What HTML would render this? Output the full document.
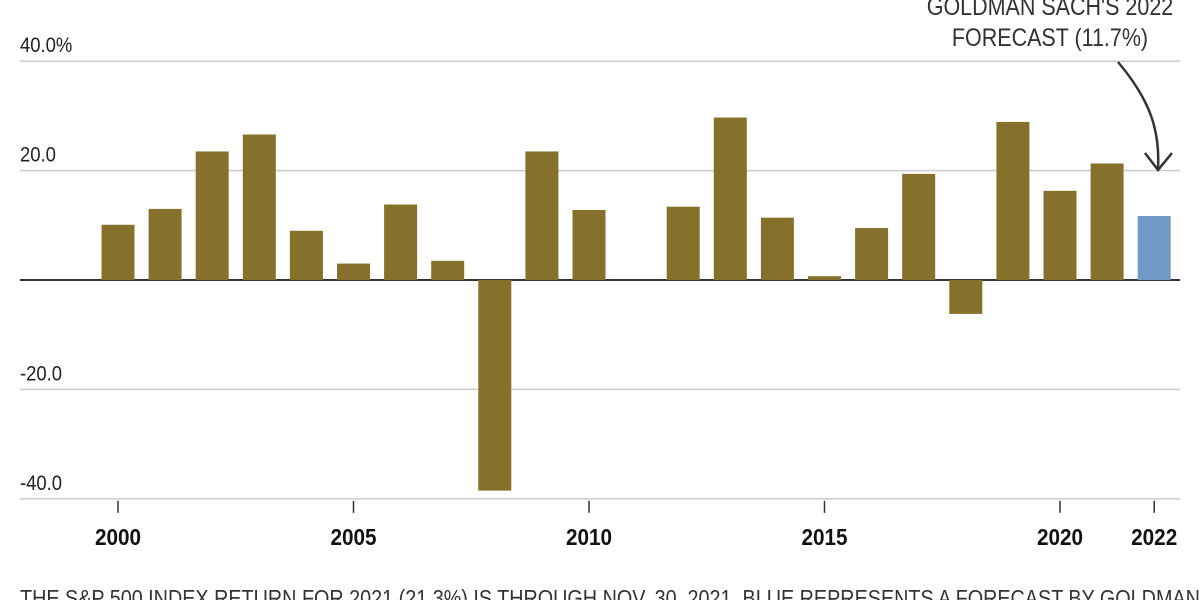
<!DOCTYPE html>
<html><head><meta charset="utf-8"><style>
html,body{margin:0;padding:0;background:#fff;}
svg{display:block;font-family:"Liberation Sans",sans-serif;}
</style></head><body>
<svg id="chart" width="1200" height="600">
<text x="20" y="-8" font-size="26" font-weight="bold">S&amp;P 500 returns</text>
<g id="grid"></g><g id="bars"></g><g id="xaxis"></g>
<text x="1050" y="15" font-size="25" fill="#333" text-anchor="middle" transform="translate(1050,0) scale(0.86,1) translate(-1050,0)">GOLDMAN SACH'S 2022</text>
<text x="1050" y="46" font-size="25" fill="#333" text-anchor="middle" transform="translate(1050,0) scale(0.86,1) translate(-1050,0)">FORECAST (11.7%)</text>
<path d="M1118,62 C1150,100 1160,130 1158,168" fill="none" stroke="#333" stroke-width="2.5"/>
<path d="M1145,153 L1158,170 L1172,153" fill="none" stroke="#333" stroke-width="2.5"/>
<text x="20" y="606" font-size="23" fill="#333" transform="translate(20,0) scale(0.86,1) translate(-20,0)">THE S&amp;P 500 INDEX RETURN FOR 2021 (21.3%) IS THROUGH NOV. 30, 2021. BLUE REPRESENTS A FORECAST BY GOLDMAN SACHS</text>
</svg>
<script>
const years=[2000,2001,2002,2003,2004,2005,2006,2007,2008,2009,2010,2011,2012,2013,2014,2015,2016,2017,2018,2019,2020,2021,2022];
const returns=[10.1,13.0,23.5,26.6,9.0,3.0,13.8,3.5,-38.5,23.5,12.8,0,13.4,29.7,11.4,0.7,9.5,19.4,-6.2,28.9,16.3,21.3,11.7];
const forecastYears=[2022];
const yTicks=[40,20,0,-20,-40];
const yTickLabels=["40.0%","20.0","","-20.0","-40.0"];
const xTicks=[2000,2005,2010,2015,2020,2022];
const NS="http://www.w3.org/2000/svg";
const x=v=>118+(v-2000)*47.1;
const y=v=>280-v*5.47;
function mk(tag,attrs,parent){const e=document.createElementNS(NS,tag);for(const k in attrs)e.setAttribute(k,attrs[k]);parent.appendChild(e);return e;}
const grid=document.getElementById('grid'),bars=document.getElementById('bars'),xa=document.getElementById('xaxis');
yTicks.forEach((t,i)=>{
  const l=mk('line',{x1:20,x2:1180,y1:y(t),y2:y(t),stroke:t===0?'#333':'#ccc','stroke-width':t===0?2:1.5},grid);
  
  
  if(yTickLabels[i]){
    const tx=mk('text',{x:20,y:y(t)-9,'font-size':21,fill:'#222',transform:`translate(20,0) scale(0.88,1) translate(-20,0)`},grid);
    tx.textContent=yTickLabels[i];
    
    
  }
});
years.forEach((yr,i)=>{
  const v=returns[i];if(v===0)return;
  const r=mk('rect',{x:x(yr)-16.5,width:33,y:Math.min(y(v),y(0)),height:Math.abs(y(v)-y(0)),fill:forecastYears.includes(yr)?'#7199c6':'#85712b'},bars);
  
  
});
xTicks.forEach(t=>{
  const l=mk('line',{x1:x(t),x2:x(t),y1:y(-40)+2,y2:y(-40)+14,stroke:'#333','stroke-width':1.5},xa);
  
  
  const tx=mk('text',{x:x(t),y:545,'font-size':23,'font-weight':'bold','text-anchor':'middle',fill:'#111',transform:`translate(${x(t)},0) scale(0.9,1) translate(${-x(t)},0)`},xa);
  tx.textContent=t;
  
  
});
</script>
</body></html>
